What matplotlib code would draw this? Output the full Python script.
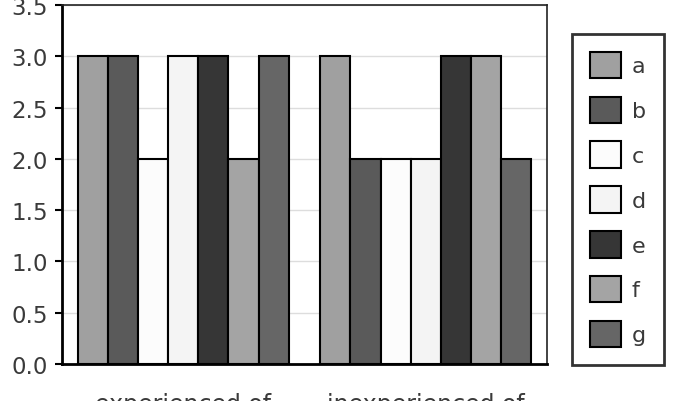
import numpy as np
import matplotlib
matplotlib.use("Agg")
import matplotlib.pyplot as plt

# data
groups = ["experienced of", "inexperienced of"]
series = ["a", "b", "c", "d", "e", "f", "g"]
experienced = [3, 3, 2, 3, 3, 2, 3]
inexperienced = [3, 2, 2, 2, 3, 3, 2]
colors = ["#a0a0a0", "#5a5a5a", "#fcfcfc", "#f4f4f4", "#363636", "#a4a4a4", "#666666"]

fig = plt.figure(figsize=(6.74, 4.02), dpi=100)
ax = fig.add_axes([62/674, 1-365/402, 485/674, 359/402])

x = np.arange(len(groups))
width = 0.87 / len(series)
for i, name in enumerate(series):
    vals = [experienced[i], inexperienced[i]]
    ax.bar(x - 0.435 + width*(i+0.5), vals, width, color=colors[i],
           edgecolor="black", linewidth=1.5, label=name, zorder=3)

ax.set_xlim(-0.5, 1.5)
ax.set_ylim(0, 3.5)
yt = np.arange(0, 3.51, 0.5)
ax.set_yticks(yt)
ax.set_yticklabels([f"{v:.1f}" for v in yt], fontsize=16.5, color="#3a3a3a")
ax.set_xticks(x)
ax.set_xticklabels(groups, fontsize=17, color="#3a3a3a")
ax.tick_params(axis="x", length=0, pad=20)
ax.tick_params(axis="y", length=5, width=1.5, direction="out", pad=5)
ax.yaxis.grid(True, color="#dddddd", linewidth=1, zorder=0)
ax.set_axisbelow(True)

for s in ["left", "bottom"]:
    ax.spines[s].set_linewidth(2)
    ax.spines[s].set_color("black")
for s in ["top", "right"]:
    ax.spines[s].set_linewidth(1.2)
    ax.spines[s].set_color("#222222")

leg = fig.legend(loc="upper left", bbox_to_anchor=(572/674, 1-35/402),
                 borderaxespad=0, fontsize=16, handlelength=1.4, handleheight=1.45,
                 labelspacing=0.83, handletextpad=0.5, borderpad=0.8,
                 fancybox=False, frameon=True)
leg.get_frame().set_edgecolor("black")
leg.get_frame().set_linewidth(2)
for t in leg.get_texts():
    t.set_color("#3a3a3a")

fig.savefig("out.png", dpi=100)
